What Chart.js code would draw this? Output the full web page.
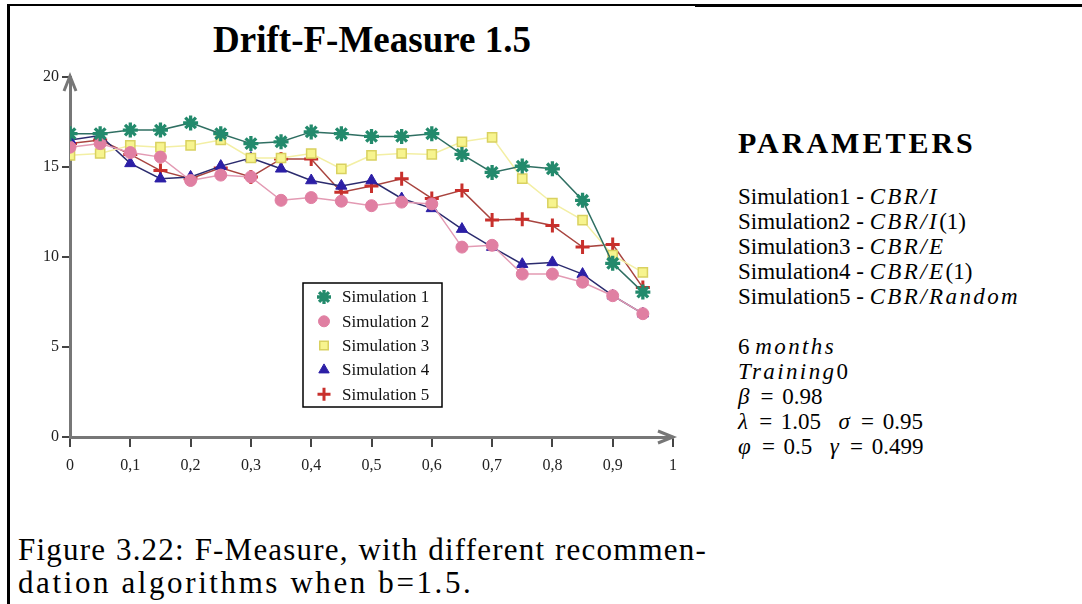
<!DOCTYPE html>
<html>
<head>
<meta charset="utf-8">
<script src="https://cdn.jsdelivr.net/npm/chart.js@4.4.0/dist/chart.umd.min.js"></script>
<style>
  body { margin: 0; background: #fff; width: 1082px; height: 604px; overflow: hidden; position: relative;
         font-family: "Liberation Serif", "DejaVu Serif", serif; color: #000; }
  .frame-top { position: absolute; left: 7px; top: 4px; width: 688px; border-top: 2px solid #000; }
  .frame-top2 { position: absolute; left: 695px; top: 4px; width: 387px; border-top: 3px solid #000; }
  .frame-left { position: absolute; left: 7px; top: 4px; height: 600px; border-left: 3px solid #000; }
  #title { position: absolute; left: 152px; width: 440px; top: 19px; text-align: center;
           font-weight: bold; font-size: 37px; line-height: 42px; }
  #wrap { position: absolute; left: 10px; top: 60px; width: 690px; height: 420px; }
  #paramHead { position: absolute; left: 738px; top: 126px; font-weight: bold; font-size: 30px;
               line-height: 34px; letter-spacing: 3px; }
  #params { position: absolute; left: 738px; top: 184px; font-size: 23px; line-height: 25px; white-space: nowrap; }
  #params i { font-style: italic; letter-spacing: 2.4px; }
  #params .eq { word-spacing: 3px; }
  .cap { position: absolute; left: 18px; font-size: 31px; line-height: 33px; white-space: nowrap; }
  #cap1 { top: 533px; width: 689px; letter-spacing: 1.2px; text-align: justify; text-align-last: justify; }
  #cap2 { top: 566px; letter-spacing: 2.6px; }
</style>
</head>
<body>
<div class="frame-top"></div>
<div class="frame-top2"></div>
<div class="frame-left"></div>
<div id="title">Drift-F-Measure 1.5</div>
<div id="wrap"><canvas id="chart"></canvas></div>

<div id="paramHead">PARAMETERS</div>
<div id="params">
  Simulation1 - <i>CBR/I</i><br>
  Simulation2 - <i>CBR/I</i>(1)<br>
  Simulation3 - <i>CBR/E</i><br>
  Simulation4 - <i>CBR/E</i>(1)<br>
  Simulation5 - <i>CBR/Random</i><br>
  <br>
  6 <i>months</i><br>
  <i>Training</i>0<br>
  <span class="eq"><i>β</i> = 0.98</span><br>
  <span class="eq"><i>λ</i> = 1.05 &nbsp;<i>σ</i> = 0.95</span><br>
  <span class="eq"><i>φ</i> = 0.5 &nbsp;<i>γ</i> = 0.499</span>
</div>

<div class="cap" id="cap1">Figure 3.22: F-Measure, with different recommen-</div>
<div class="cap" id="cap2">dation algorithms when b=1.5.</div>

<script>
// データ
const xs = [0, 0.05, 0.1, 0.15, 0.2, 0.25, 0.3, 0.35, 0.4, 0.45, 0.5, 0.55, 0.6, 0.65, 0.7, 0.75, 0.8, 0.85, 0.9, 0.95];
const labels = ['Simulation 1', 'Simulation 2', 'Simulation 3', 'Simulation 4', 'Simulation 5'];
const sim1 = [16.85, 16.85, 17.05, 17.05, 17.45, 16.85, 16.3, 16.4, 16.95, 16.85, 16.7, 16.7, 16.85, 15.7, 14.7, 15.05, 14.9, 13.15, 9.65, 8.05];
const sim2 = [16.1, 16.3, 15.8, 15.55, 14.25, 14.55, 14.45, 13.15, 13.3, 13.1, 12.85, 13.05, 12.95, 10.55, 10.65, 9.05, 9.05, 8.6, 7.85, 6.85];
const sim3 = [15.65, 15.75, 16.2, 16.1, 16.2, 16.5, 15.5, 15.5, 15.75, 14.9, 15.65, 15.75, 15.7, 16.4, 16.65, 14.35, 13.0, 12.05, 10.1, 9.15];
const sim4 = [16.5, 16.75, 15.2, 14.35, 14.45, 15.05, 15.5, 14.9, 14.25, 13.95, 14.25, 13.25, 12.7, 11.55, 10.55, 9.6, 9.7, 9.05, 7.85, 6.85];
const sim5 = [16.3, 16.5, 15.7, 14.8, 14.35, 14.95, 14.45, 15.45, 15.45, 13.6, 13.95, 14.35, 13.25, 13.7, 12.05, 12.1, 11.75, 10.55, 10.7, 8.3];
const xTicks = [0, 0.1, 0.2, 0.3, 0.4, 0.5, 0.6, 0.7, 0.8, 0.9, 1];
const yTicks = [0, 5, 10, 15, 20];

const series = [sim1, sim2, sim3, sim4, sim5];
const styles = [
  { line: '#2f6f62', fill: '#238a6c', edge: '#1f7a60', point: 'star', r: 7.5, bw: 3.3 },
  { line: '#e39ab3', fill: '#e07fa2', edge: '#e07fa2', point: 'circle', r: 6, bw: 1 },
  { line: '#f3efa4', fill: '#f7f48e', edge: '#d9d160', point: 'rect', r: 6.5, bw: 1.5 },
  { line: '#2b2b6e', fill: '#2c1fa6', edge: '#2c1fa6', point: 'triangle', r: 6.5, bw: 1 },
  { line: '#a8443f', fill: '#c8302c', edge: '#c8302c', point: 'cross', r: 7, bw: 3 }
];

// 軸の矢印
const arrowPlugin = {
  id: 'arrows',
  afterDraw(chart) {
    const { ctx, chartArea } = chart;
    ctx.save();
    ctx.strokeStyle = '#777';
    ctx.lineWidth = 3;
    ctx.beginPath();
    // y軸
    ctx.moveTo(chartArea.left - 6, chartArea.top + 14);
    ctx.lineTo(chartArea.left, chartArea.top - 1);
    ctx.lineTo(chartArea.left + 6, chartArea.top + 14);
    // x軸
    ctx.moveTo(chartArea.right - 15, chartArea.bottom - 6);
    ctx.lineTo(chartArea.right, chartArea.bottom);
    ctx.lineTo(chartArea.right - 15, chartArea.bottom + 6);
    ctx.stroke();
    ctx.restore();
  }
};

// 凡例（グラフ内の枠）
const legendBoxPlugin = {
  id: 'legendBox',
  afterDraw(chart) {
    const { ctx } = chart;
    const bx = 293, by = 223, bw = 139, bh = 124;
    ctx.save();
    ctx.fillStyle = '#fff';
    ctx.fillRect(bx, by, bw, bh);
    ctx.strokeStyle = '#000';
    ctx.lineWidth = 1.5;
    ctx.strokeRect(bx, by, bw, bh);
    ctx.font = '17px "Liberation Serif", serif';
    ctx.textBaseline = 'middle';
    labels.forEach((label, i) => {
      const s = styles[i];
      const y = by + 14 + i * 24.3;
      ctx.fillStyle = s.fill;
      ctx.strokeStyle = s.point === 'rect' ? s.edge : s.fill;
      ctx.lineWidth = s.bw;
      Chart.helpers.drawPoint(ctx, { pointStyle: s.point, radius: s.r - 0.5, rotation: 0, borderWidth: s.bw }, bx + 21, y);
      ctx.fillStyle = '#111';
      ctx.fillText(label, bx + 39, y + 1);
    });
    ctx.restore();
  }
};

const datasets = series.map((data, i) => ({
  label: labels[i],
  data: data.map((v, j) => ({ x: xs[j], y: v })),
  borderColor: styles[i].line,
  borderWidth: 1.5,
  pointStyle: styles[i].point,
  pointRadius: styles[i].r,
  pointBackgroundColor: styles[i].fill,
  pointBorderColor: styles[i].point === 'rect' ? styles[i].edge : styles[i].fill,
  pointBorderWidth: styles[i].bw,
  tension: 0,
  fill: false
}));

new Chart(document.getElementById('chart'), {
  type: 'line',
  data: { datasets },
  options: {
    responsive: true,
    maintainAspectRatio: false,
    animation: false,
    layout: { padding: { top: 17, right: 27, left: 0, bottom: 0 } },
    plugins: { legend: { display: false }, tooltip: { enabled: false } },
    scales: {
      x: {
        type: 'linear',
        min: 0,
        max: 1,
        afterFit: s => { s.height = 43; },
        afterBuildTicks: s => { s.ticks = xTicks.map(v => ({ value: v })); },
        border: { display: true, color: '#777', width: 3 },
        grid: { display: true, drawOnChartArea: false, drawTicks: true, tickLength: 10, color: '#444', lineWidth: 2 },
        ticks: {
          color: '#222',
          padding: 9,
          font: { family: '"Liberation Serif", serif', size: 16 },
          callback: v => (v === 0 || v === 1) ? String(v) : v.toFixed(1).replace('.', ',')
        }
      },
      y: {
        min: 0,
        max: 20,
        afterFit: s => { s.width = 60; },
        afterBuildTicks: s => { s.ticks = yTicks.map(v => ({ value: v })); },
        border: { display: true, color: '#777', width: 3 },
        grid: { display: true, drawOnChartArea: false, drawTicks: true, tickLength: 8, color: '#444', lineWidth: 2 },
        ticks: {
          color: '#222',
          padding: 3,
          font: { family: '"Liberation Serif", serif', size: 16 }
        }
      }
    }
  },
  plugins: [arrowPlugin, legendBoxPlugin]
});
</script>
</body>
</html>
